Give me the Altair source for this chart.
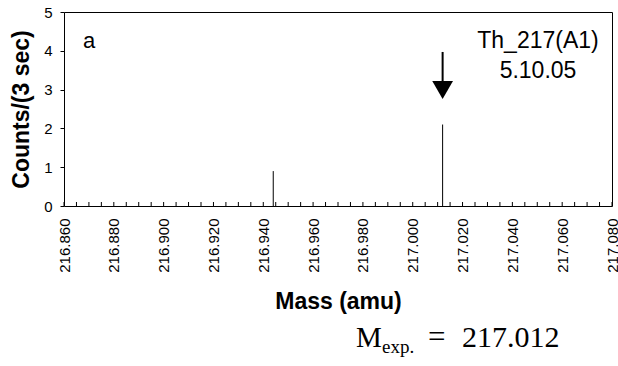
import altair as alt
import pandas as pd

# ---- data ----
peak_mass = [216.944, 217.012]
peak_counts = [0.9, 2.1]

x_tick_values = [round(216.860 + 0.005 * i, 3) for i in range(45)]
y_tick_values = [0, 1, 2, 3, 4, 5]

arrow_mass = [217.012]
arrow_top = [3.97]
arrow_bottom = [3.15]
arrow_head = [2.99]

panel_label = ["a"]
run_line1 = ["Th_217(A1)"]
run_line2 = ["5.10.05"]
mexp_main = ["M"]
mexp_sub = ["exp."]
mexp_eq = ["="]
mexp_value = ["217.012"]

SANS = "Liberation Sans"
SERIF = "Liberation Serif"

peaks = pd.DataFrame({"mass": peak_mass, "counts": peak_counts})
arrow = pd.DataFrame({"mass": arrow_mass, "top": arrow_top,
                      "bottom": arrow_bottom, "head": arrow_head})
ticks = pd.DataFrame({"mass": x_tick_values})

xscale = alt.Scale(domain=[216.86, 217.08], nice=False, zero=False)
yscale = alt.Scale(domain=[0, 5], nice=False)

x_axis = alt.Axis(
    values=x_tick_values,
    labelExpr="abs(round(datum.value*1000) % 20) == 0 ? format(datum.value, '.3f') : ''",
    labelAngle=-90, labelAlign="right", labelBaseline="middle",
    labelFont=SANS, labelFontSize=15, labelColor="#000",
    labelOverlap=False, labelFlush=False, labelPadding=12, ticks=False,
    domain=False, grid=False,
    title="Mass (amu)", titleFont=SANS, titleFontSize=23,
    titleFontWeight="bold", titleColor="#000", titlePadding=18,
)
y_axis = alt.Axis(
    values=y_tick_values, format="d",
    labelFont=SANS, labelFontSize=15, labelColor="#000", labelPadding=8,
    labelOverlap=False, labelFlush=False,
    tickSize=4, tickColor="#000",
    domain=False, grid=False,
    title="Counts/(3 sec)", titleFont=SANS, titleFontSize=23,
    titleFontWeight="bold", titleColor="#000", titlePadding=10,
)

X = alt.X("mass:Q", scale=xscale, axis=x_axis)

sticks = alt.Chart(peaks).mark_rule(color="#000", strokeWidth=1).encode(
    x=X,
    y=alt.Y("counts:Q", scale=yscale, axis=y_axis),
    y2=alt.datum(0),
)

minor = alt.Chart(ticks).mark_rule(color="#000", strokeWidth=1).encode(
    x=X,
    y=alt.value(194), y2=alt.value(190),
)

arrow_shaft = alt.Chart(arrow).mark_rule(color="#000", strokeWidth=2).encode(
    x=X,
    y=alt.Y("top:Q", scale=yscale, axis=y_axis),
    y2="bottom:Q",
)
arrow_tip = alt.Chart(arrow).mark_point(
    shape="triangle-down", filled=True, size=430, color="#000", opacity=1
).encode(
    x=X,
    y=alt.Y("head:Q", scale=yscale, axis=y_axis),
)


def label(texts, font, size, align, x, y):
    return alt.Chart(pd.DataFrame({"t": texts})).mark_text(
        font=font, fontSize=size, align=align, baseline="alphabetic", color="#000"
    ).encode(text="t:N", x=alt.value(x), y=alt.value(y))


t_a = label(panel_label, SANS, 22, "left", 19, 36)
t_r1 = label(run_line1, SANS, 23, "center", 474, 36)
t_r2 = label(run_line2, SANS, 23, "center", 474, 66)
t_m = label(mexp_main, SERIF, 29, "left", 292, 335)
t_sub = label(mexp_sub, SERIF, 19, "left", 318, 341)
t_eq = label(mexp_eq, SERIF, 31, "left", 364, 335)
t_val = label(mexp_value, SERIF, 30, "left", 398, 335)

chart = alt.layer(
    sticks, minor, arrow_shaft, arrow_tip, t_a, t_r1, t_r2, t_m, t_sub, t_eq, t_val
).properties(
    width=548, height=194,
    autosize=alt.AutoSizeParams(type="none"),
    padding={"left": 64, "top": 12, "right": 6, "bottom": 160},
    background="#fff",
).configure_view(stroke="#000", strokeWidth=1)

chart.save("out.html", embed_options={"renderer": "svg", "actions": False})
